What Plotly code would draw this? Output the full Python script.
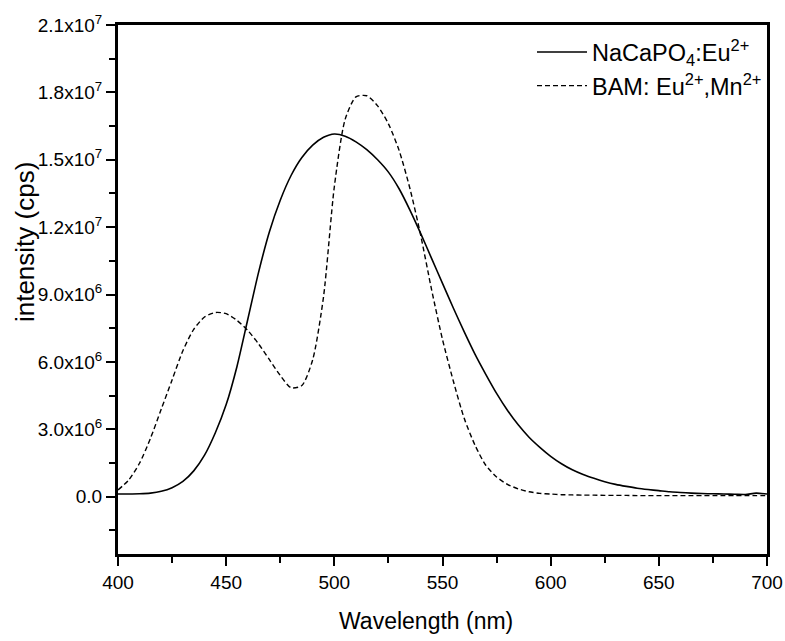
import plotly.graph_objects as go

# Wavelength grid (nm)
wavelength = list(range(400, 705, 5))

# NaCaPO4:Eu2+ emission (x1e6 cps)
nacapo4 = [0.12, 0.12, 0.13, 0.16, 0.24, 0.4, 0.68, 1.15, 1.85, 2.85,
           4.1, 5.8, 7.9, 10.0, 11.8, 13.2, 14.3, 15.1, 15.65, 16.0,
           16.15, 16.05, 15.8, 15.45, 15.0, 14.45, 13.7, 12.75, 11.7, 10.6,
           9.5, 8.4, 7.35, 6.35, 5.45, 4.6, 3.85, 3.2, 2.65, 2.2,
           1.8, 1.47, 1.2, 0.99, 0.82, 0.67, 0.55, 0.46, 0.38, 0.32,
           0.27, 0.22, 0.19, 0.16, 0.14, 0.13, 0.12, 0.11, 0.10, 0.16,
           0.12]

# BAM: Eu2+,Mn2+ emission (x1e6 cps)
bam = [0.3, 0.75, 1.5, 2.6, 3.9, 5.2, 6.5, 7.45, 8.0, 8.2,
       8.15, 7.85, 7.4, 6.8, 6.1, 5.4, 4.85, 4.95, 6.1, 8.9,
       13.8, 16.8, 17.8, 17.85, 17.4, 16.6, 15.4, 13.7, 11.6, 9.2,
       7.0, 5.15, 3.5, 2.3, 1.4, 0.88, 0.55, 0.35, 0.22, 0.15,
       0.12, 0.09, 0.08, 0.07, 0.07, 0.06, 0.06, 0.06, 0.05, 0.05,
       0.05, 0.05, 0.05, 0.05, 0.05, 0.05, 0.05, 0.05, 0.05, 0.05,
       0.05]

series_names = ["NaCaPO<sub>4</sub>:Eu<sup>2+</sup>", "BAM: Eu<sup>2+</sup>,Mn<sup>2+</sup>"]

y_tickvals = [0, 3e6, 6e6, 9e6, 1.2e7, 1.5e7, 1.8e7, 2.1e7]
y_ticktext = ["0.0", "3.0x10<sup>6</sup>", "6.0x10<sup>6</sup>", "9.0x10<sup>6</sup>",
              "1.2x10<sup>7</sup>", "1.5x10<sup>7</sup>", "1.8x10<sup>7</sup>",
              "2.1x10<sup>7</sup>"]

x_title = "Wavelength (nm)"
y_title = "intensity (cps)"

FONT = "Liberation Sans, Arial, Helvetica, sans-serif"

fig = go.Figure()
fig.add_trace(go.Scatter(
    x=wavelength, y=[v * 1e6 for v in nacapo4], name=series_names[0],
    mode="lines", line=dict(color="black", width=1.6, shape="spline", smoothing=0.7)))
fig.add_trace(go.Scatter(
    x=wavelength, y=[v * 1e6 for v in bam], name=series_names[1],
    mode="lines", line=dict(color="black", width=1.4, dash="5px,3px", shape="spline", smoothing=0.7)))

axis_common = dict(
    showline=True, linewidth=3, linecolor="black", mirror=True,
    ticks="outside", ticklen=9, tickwidth=2, tickcolor="black",
    showgrid=False, zeroline=False, automargin=False,
    tickfont=dict(family=FONT, size=19, color="black"),
)

fig.update_xaxes(
    range=[400, 700], dtick=50, tick0=400,
    minor=dict(dtick=25, tick0=400, ticklen=6, tickwidth=2, tickcolor="black", ticks="outside"),
    **axis_common)
fig.update_yaxes(
    range=[-2.55e6, 2.1e7], tickmode="array", tickvals=y_tickvals, ticktext=y_ticktext,
    minor=dict(dtick=1.5e6, tick0=0, ticklen=6, tickwidth=2, tickcolor="black", ticks="outside"),
    **axis_common)

fig.add_annotation(
    text=y_title, textangle=-90, xref="paper", yref="paper",
    x=-0.143, y=0.59, xanchor="center", yanchor="middle", showarrow=False,
    font=dict(family=FONT, size=26, color="black"))
fig.add_annotation(
    text=x_title, xref="paper", yref="paper",
    x=0.474, y=-0.127, xanchor="center", yanchor="middle", showarrow=False,
    font=dict(family=FONT, size=23, color="black"))

fig.update_layout(
    width=785, height=641,
    margin=dict(l=118, r=18, t=25, b=87),
    paper_bgcolor="white", plot_bgcolor="white",
    showlegend=True,
    legend=dict(x=1.0, y=0.99, xanchor="right", yanchor="top",
                bgcolor="rgba(0,0,0,0)", borderwidth=0, itemwidth=50,
                entrywidth=142, entrywidthmode="pixels",
                font=dict(family=FONT, size=23.5, color="black"),
                tracegroupgap=0),
)

fig.write_html("out.html")
